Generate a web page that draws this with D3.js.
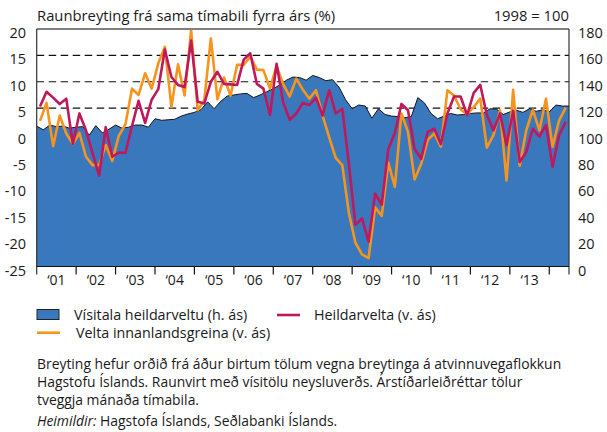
<!DOCTYPE html>
<html><head><meta charset="utf-8">
<script src="https://cdn.jsdelivr.net/npm/d3@7"></script>
<style>
body{margin:0;background:#fff;}
svg text{font-family:"Open Sans",Lato,sans-serif;fill:#1a1a1a;}
</style></head><body>
<svg id="c" width="607" height="432"></svg>
<script>
// ---- data ----
const startYear = 2001;
const endYear = 2014.5;
const yearLabels = ["‘01","‘02","‘03","‘04","‘05","‘06","‘07","‘08","‘09","‘10","‘11","‘12","‘13"];
const leftTicks = [-25,-20,-15,-10,-5,0,5,10,15,20];
const rightTicks = [0,20,40,60,80,100,120,140,160,180];
const gridValues = [5,10,15];

// Heildarvelta (v. ás), two-month periods from Jan–Feb 2001
const heildarvelta = [
 5.3, 8.1, 7.0, 5.8, 6.8,-1.8, 4.0, 0.8,-3.5,-7.8, 1.4,-4.2,
-3.4,-3.5, 1.6, 6.4, 2.2, 6.6, 8.6,16.1,10.9, 9.4, 9.0,17.8,
 6.2, 5.9,10.0,11.9, 9.6, 9.5, 9.4,14.2,15.4, 9.6, 8.7, 3.7,
13.4, 6.1, 2.8, 4.0, 6.0, 5.6, 7.0, 3.6, 8.4, 4.0, 4.9,-5.5,
-17.1,-15.9,-20.3,-11.2,-13.3,-2.8, 0.3, 5.8, 4.6,-2.7,-4.6, 0.5,
 1.1,-1.8, 4.0, 7.2, 7.2, 3.7, 7.9, 9.4, 3.7, 0.8, 4.0,-2.0,
 4.5,-5.2,-3.3, 1.1,-0.4, 1.8,-6.1,-0.1, 2.4];

// Velta innanlandsgreina (v. ás)
const veltaInnanlands = [
 2.6, 6.0,-2.2, 3.6, 0.2,-1.8, 0.3,-4.2,-5.8,-5.8,-2.0,-5.0,
-0.2, 1.9, 8.7, 7.5,11.6, 8.7,13.5,16.6, 5.2,13.3, 7.4,19.8,
 4.6, 6.5,18.2, 6.7,10.8, 7.4,13.2,13.2,14.8,12.3,12.2, 8.7,
13.0, 9.6, 7.2,10.6, 8.5, 6.8, 8.4, 3.6,-0.5,-4.4,-5.8,-14.8,
-20.5,-22.7,-23.4,-13.8,-15.4,-5.3,-9.9, 4.0, 0.5,-8.5,-5.6,-1.0,
 0.2,-2.3, 8.4, 7.4, 4.8, 3.8, 5.2, 6.8,-2.5,-0.1, 4.6,-8.7,
 8.5,-5.9, 0.8, 4.7, 0.8, 6.8,-2.3, 2.7, 5.1];

// Vísitala heildarveltu (h. ás), 1998 = 100, sampled every two months from Jan 2001
const visitala = [
106.4,103.6,107.2,106.0,106.4,104.8,105.6,106.0, 99.6,106.8,101.2,104.0,
107.2,104.8,105.6,107.2,107.2,105.6,112.0,110.8,111.2,111.6,114.0,115.6,
116.8,118.8,124.8,119.6,125.2,129.2,130.0,130.8,131.2,128.0,130.0,132.4,
134.8,137.6,141.2,143.6,143.2,141.2,144.8,143.2,140.8,141.6,136.0,126.4,
119.6,122.4,121.6,112.4,119.6,115.2,114.0,113.6,112.8,113.6,128.0,124.0,
116.0,112.0,114.0,116.0,114.8,115.2,116.0,116.4,116.4,119.6,119.2,115.2,
117.2,118.4,116.8,119.6,117.6,118.8,117.2,122.4,121.6,121.6];

// ---- chart ----
const svg = d3.select("#c");
const L = 36.7, R = 569, T = 29, B = 266.5;
const x = d3.scaleLinear().domain([startYear, endYear]).range([L, R]);
const yL = d3.scaleLinear().domain([-25, 20]).range([B, T]);
const yR = d3.scaleLinear().domain([0, 180]).range([B, T]);

const lineDate = i => startYear + (2*i + 1)/12;
const areaDate = k => startYear + k/6;

// gridlines
svg.append("g").selectAll("line").data(gridValues).join("line")
  .attr("x1", L).attr("x2", R)
  .attr("y1", d => yL(d)).attr("y2", d => yL(d))
  .attr("stroke", "#111").attr("stroke-width", 1.1)
  .attr("stroke-dasharray", "7.5,4.5");

// area
const areaData = visitala.map((v,k) => ({t: areaDate(k), v}));
svg.append("path").datum(areaData)
  .attr("d", d3.area().x(d => x(d.t)).y0(yR(0)).y1(d => yR(d.v)))
  .attr("fill", "#3a78bd");
svg.append("path").datum(areaData)
  .attr("d", d3.line().x(d => x(d.t)).y(d => yR(d.v)))
  .attr("fill", "none").attr("stroke", "#151515").attr("stroke-width", 1);

// lines
const lineGen = d3.line().x(d => x(d.t)).y(d => yL(d.v)).curve(d3.curveLinear);
svg.append("path").datum(veltaInnanlands.map((v,i) => ({t: lineDate(i), v})))
  .attr("d", lineGen).attr("fill", "none")
  .attr("stroke", "#f7941d").attr("stroke-width", 2.6).attr("stroke-linejoin", "round");
svg.append("path").datum(heildarvelta.map((v,i) => ({t: lineDate(i), v})))
  .attr("d", lineGen).attr("fill", "none")
  .attr("stroke", "#c0185c").attr("stroke-width", 2.6).attr("stroke-linejoin", "round");

// frame
svg.append("line").attr("x1", L).attr("x2", R).attr("y1", T).attr("y2", T)
  .attr("stroke", "#808080").attr("stroke-width", 2);
svg.append("line").attr("x1", L).attr("x2", L).attr("y1", T).attr("y2", B + 8)
  .attr("stroke", "#333").attr("stroke-width", 1.2);
svg.append("line").attr("x1", R).attr("x2", R).attr("y1", T).attr("y2", B + 8)
  .attr("stroke", "#333").attr("stroke-width", 1.2);
svg.append("line").attr("x1", L).attr("x2", R).attr("y1", B).attr("y2", B)
  .attr("stroke", "#111").attr("stroke-width", 1.2);

// x axis ticks & labels
const yearTicks = d3.range(startYear + 1, 2015);
svg.append("g").selectAll("line").data(yearTicks).join("line")
  .attr("x1", d => x(d)).attr("x2", d => x(d))
  .attr("y1", B).attr("y2", B + 8)
  .attr("stroke", "#111").attr("stroke-width", 1.2);
svg.append("g").selectAll("text").data(yearLabels).join("text")
  .attr("x", (d,i) => x(startYear + i + 0.5)).attr("y", B + 18)
  .attr("text-anchor", "middle").attr("font-size", 14).text(d => d);

// y labels
svg.append("g").selectAll("text").data(leftTicks).join("text")
  .attr("x", 26).attr("y", d => yL(d) + 9)
  .attr("text-anchor", "end").attr("font-size", 14.5).text(d => d);
svg.append("g").selectAll("text").data(rightTicks).join("text")
  .attr("x", 578).attr("y", d => yR(d) + 9)
  .attr("text-anchor", "start").attr("font-size", 14.5).text(d => d);

// titles
svg.append("text").attr("x", 37).attr("y", 20.5).attr("font-size", 14.8)
  .text("Raunbreyting frá sama tímabili fyrra árs (%)");
svg.append("text").attr("x", 569).attr("y", 20.5).attr("font-size", 14.8)
  .attr("text-anchor", "end").text("1998 = 100");

// legend
svg.append("rect").attr("x", 37).attr("y", 309.5).attr("width", 22).attr("height", 10)
  .attr("fill", "#3a78bd").attr("stroke", "#222").attr("stroke-width", 1);
svg.append("text").attr("x", 74).attr("y", 320).attr("font-size", 14.3)
  .text("Vísitala heildarveltu (h. ás)");
svg.append("line").attr("x1", 277).attr("x2", 300).attr("y1", 315).attr("y2", 315)
  .attr("stroke", "#c0185c").attr("stroke-width", 2.6);
svg.append("text").attr("x", 314).attr("y", 320).attr("font-size", 14.3)
  .text("Heildarvelta (v. ás)");
svg.append("line").attr("x1", 37).attr("x2", 60).attr("y1", 332.7).attr("y2", 332.7)
  .attr("stroke", "#f7941d").attr("stroke-width", 2.6);
svg.append("text").attr("x", 76).attr("y", 338).attr("font-size", 14.3)
  .text("Velta innanlandsgreina (v. ás)");

// footnote
const notes = [
  "Breyting hefur orðið frá áður birtum tölum vegna breytinga á atvinnuvegaflokkun",
  "Hagstofu Íslands. Raunvirt með vísitölu neysluverðs. Árstíðarleiðréttar tölur",
  "tveggja mánaða tímabila."
];
svg.append("g").selectAll("text").data(notes).join("text")
  .attr("x", 37).attr("y", (d,i) => 369 + i*18).attr("font-size", 13.9).text(d => d);
const src = svg.append("text").attr("x", 37).attr("y", 426).attr("font-size", 13.9);
src.append("tspan").attr("font-style", "italic").text("Heimildir:");
src.append("tspan").text(" Hagstofa Íslands, Seðlabanki Íslands.");
</script>
</body></html>
